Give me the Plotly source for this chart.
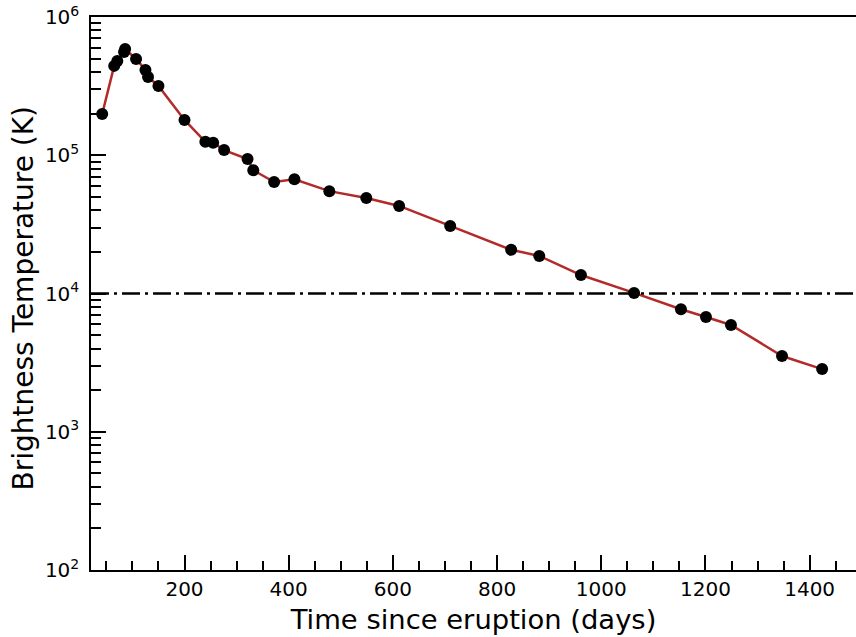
import plotly.graph_objects as go

# Brightness temperature light curve
days = [42, 65, 71, 84, 86, 107, 125, 130, 150, 200, 240, 255, 276, 321, 332,
        372, 411, 478, 549, 612, 710, 827, 881, 961, 1063, 1153, 1201, 1249,
        1347, 1424]
tb_kelvin = [1.99e5, 4.43e5, 4.80e5, 5.59e5, 5.87e5, 4.97e5, 4.14e5, 3.68e5,
             3.17e5, 1.80e5, 1.25e5, 1.23e5, 1.09e5, 9.4e4, 7.8e4, 6.4e4,
             6.7e4, 5.5e4, 4.9e4, 4.3e4, 3.08e4, 2.07e4, 1.87e4, 1.36e4,
             1.01e4, 7.7e3, 6.76e3, 5.92e3, 3.53e3, 2.84e3]
threshold_k = 1e4

x_ticks = [200, 400, 600, 800, 1000, 1200, 1400]
x_minor = list(range(50, 1500, 50))
y_ticks = [1e2, 1e3, 1e4, 1e5, 1e6]
y_ticklabels = ["10<sup>2</sup>", "10<sup>3</sup>", "10<sup>4</sup>",
                "10<sup>5</sup>", "10<sup>6</sup>"]
y_minor = [m * 10 ** e for e in range(2, 6) for m in range(2, 10)]

font = "DejaVu Sans"
W, H = 856, 637
L, R, T, B = 91, 0, 17, 67

fig = go.Figure()
fig.add_trace(go.Scatter(
    x=days, y=tb_kelvin, mode="lines+markers",
    line=dict(color="#b22a2a", width=2.5),
    marker=dict(color="black", size=12),
    showlegend=False,
))

# horizontal reference level
fig.add_shape(type="line", xref="paper", yref="y", x0=0, x1=1,
              y0=threshold_k, y1=threshold_k,
              line=dict(color="black", width=2.5, dash="18px,5px,3px,5px"))

# y-axis label placed as a rotated annotation
plot_w, plot_h = W - L - R, H - T - B
fig.add_annotation(
    text="Brightness Temperature (K)", textangle=-90, showarrow=False,
    xref="paper", yref="paper",
    x=(23 - L) / plot_w, y=(H - B - 298.5) / plot_h,
    xanchor="center", yanchor="middle",
    font=dict(size=28, family=font, color="black"),
)

fig.update_layout(
    width=W, height=H,
    margin=dict(l=L, r=R, t=T, b=B),
    paper_bgcolor="white", plot_bgcolor="white",
    font=dict(family=font, color="black"),
)
fig.update_xaxes(
    range=[20.5, 1489], showgrid=False, zeroline=False,
    showline=True, linecolor="black", linewidth=1.5, mirror=True,
    tickmode="array", tickvals=x_ticks,
    ticks="inside", ticklen=15, tickwidth=2, tickcolor="black",
    tickfont=dict(size=20, family=font),
    minor=dict(tickmode="array", tickvals=x_minor, ticks="inside",
               ticklen=9, tickwidth=1.5, tickcolor="black", showgrid=False),
    title=dict(text="Time since eruption (days)", font=dict(size=27.4, family=font),
               standoff=10),
)
fig.update_yaxes(
    type="log", range=[2, 6], showgrid=False, zeroline=False,
    showline=True, linecolor="black", linewidth=1.5, mirror=False,
    tickmode="array", tickvals=y_ticks, ticktext=y_ticklabels,
    ticks="inside", ticklen=15, tickwidth=2, tickcolor="black",
    ticklabelstandoff=6,
    tickfont=dict(size=20, family=font),
    minor=dict(tickmode="array", tickvals=y_minor, ticks="inside",
               ticklen=10, tickwidth=1.5, tickcolor="black", showgrid=False),
)

fig.write_html("out.html")
